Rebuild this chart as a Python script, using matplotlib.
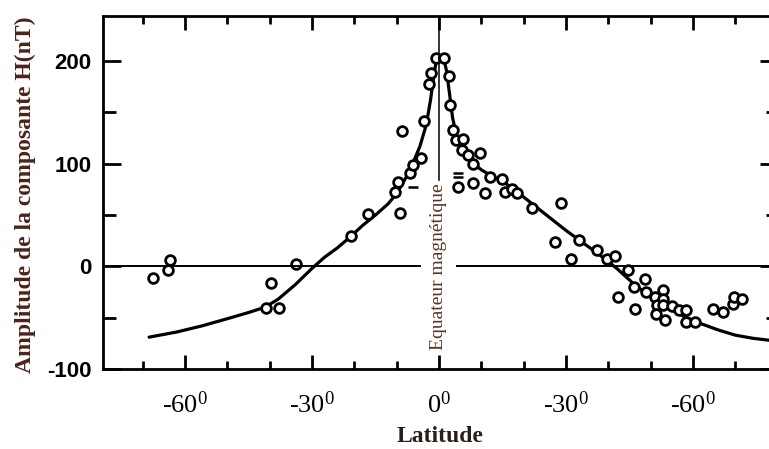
import matplotlib
matplotlib.use('Agg')
import matplotlib.pyplot as plt

plt.rcParams['mathtext.fontset'] = 'custom'
plt.rcParams['mathtext.rm'] = 'Liberation Serif'
plt.rcParams['mathtext.default'] = 'regular'
plt.rcParams['axes.unicode_minus'] = False

# fitted curve (latitude, amplitude nT)
curve_lat = [-68.5, -62, -56, -50, -45, -42, -40, -38, -36, -34, -32, -30, -27,
             -24, -21, -18, -15, -12, -10, -8, -6, -4.5, -3, -2, -1.2, -0.5,
             1, 1.8, 2.5, 3.2, 4, 5, 6, 7, 8.5, 10, 12.5, 15, 18, 22, 26, 30,
             34, 38, 42, 46, 50, 54, 58, 62, 66, 70, 74, 78, 80]
curve_amp = [-69, -64, -58, -51, -45, -41, -37, -32, -25, -18, -10, -2, 9,
             18, 28.6, 40, 50, 61, 71, 85, 102, 117, 138, 162, 186, 204,
             205, 190, 168, 145, 130, 118, 111, 105, 99, 94, 88, 83, 74, 61, 48, 35,
             23, 11, -2, -17, -30, -40, -49, -56, -62, -67, -70, -72, -73]

# observed stations
obs_lat = [-67.5, -64.1, -63.5, -39.8, -40.9, -37.7, -33.8,
           -20.9, -16.7, -10.4, -9.6, -9.2, -8.7, -6.9, -6.1, -4.3, -3.5,
           -2.3, -1.9, -0.8, 1.2,
           2.4, 2.6, 3.4, 4.0, 5.6, 5.4, 6.9, 9.7, 8.1, 4.6, 8.1, 10.9, 12.0,
           14.8, 15.6, 17.2, 18.4, 21.9, 28.8, 27.4, 31.2, 33.1, 37.3, 39.8,
           41.7, 44.7, 46.1, 42.4, 46.3, 48.7, 49.0, 51.0, 51.4, 51.3, 53.0,
           53.0, 53.0, 53.4, 55.0, 56.8, 58.3, 58.3, 60.5, 64.8, 67.0, 69.5,
           69.8, 71.7]
obs_amp = [-11, -4, 6.5, -16, -40.7, -40.7, 2.6,
           30, 51.4, 72.5, 82, 52, 132, 91, 98.5, 106, 142,
           177.6, 188, 203, 203,
           185, 157, 133, 123, 123.6, 113, 108, 110, 100, 77, 80.7, 71, 87,
           85.5, 72.5, 75, 71, 57, 61.8, 23.7, 6.8, 26, 15.6, 6.8,
           9.8, -3.9, -20, -30, -42, -12, -25, -30, -38, -46.8, -23.4,
           -31.5, -38, -52.7, -39, -42.3, -42.3, -54.3, -54.3, -41.3, -44.6, -36.4,
           -30, -31.5]

# short dash marks near the equator
dash_lat = [-6.1, 4.5, 4.5]
dash_amp = [77, 91, 87.5]

x_ticks = [-60, -30, 0, 30, 60]
x_labels = ['-60$^{0}$', '-30$^{0}$', '0$^{0}$', '-30$^{0}$', '-60$^{0}$']
y_ticks = [-100, 0, 100, 200]
y_labels = ['-100', '0', '100', '200']

fig = plt.figure(figsize=(7.69, 4.49), dpi=100)
ax = fig.add_axes([0.1339, 0.1782, 0.8772, 0.7851])

ax.plot(curve_lat, curve_amp, color='black', lw=2.3, solid_capstyle='round',
        solid_joinstyle='round')
ax.plot(obs_lat, obs_amp, 'o', ms=7, mfc='white', mec='black', mew=2)
ax.plot(dash_lat, dash_amp, '_', ms=7, mec='black', mew=1.8)

# zero line with a gap around the equator label
ax.plot([-79.4, -4.4], [0, 0], color='black', lw=1.4)
ax.plot([4.2, 80], [0, 0], color='black', lw=1.4)
ax.plot([0, 0], [84, 243.4], color='black', lw=1.1)
ax.text(0, 0, 'Equateur magnétique', rotation=90, ha='center', va='center',
        fontsize=14, family='Liberation Serif', color='#5a3322')

ax.set_xlim(-79.4, 80)
ax.set_ylim(-100, 243.4)

for s in ax.spines.values():
    s.set_linewidth(2)

ax.set_xticks(x_ticks)
ax.set_xticklabels(x_labels, fontsize=19, family='Liberation Serif')
ax.set_xticks(range(-70, 80, 10), minor=True)
ax.set_yticks(y_ticks)
ax.set_yticklabels(y_labels, fontsize=16, fontweight='bold', family='Liberation Sans')
ax.set_yticks([-50, 50, 150], minor=True)
ax.tick_params(axis='both', which='both', direction='in', top=True, right=True, width=2)
ax.tick_params(axis='x', which='major', length=10, pad=16)
ax.tick_params(axis='x', which='minor', length=6)
ax.tick_params(axis='y', which='major', length=13, pad=8)
ax.tick_params(axis='y', which='minor', length=9)

ax.set_xlabel('Latitude', fontsize=17, fontweight='bold', family='Liberation Serif',
              color='#2a1e1a', labelpad=6)
fig.text(0.033, 0.566, 'Amplitude de la composante H(nT)', rotation=90,
         ha='center', va='center', fontsize=17, fontweight='bold',
         family='Liberation Serif', color='#4a2418')

fig.savefig('out.png', dpi=100)
